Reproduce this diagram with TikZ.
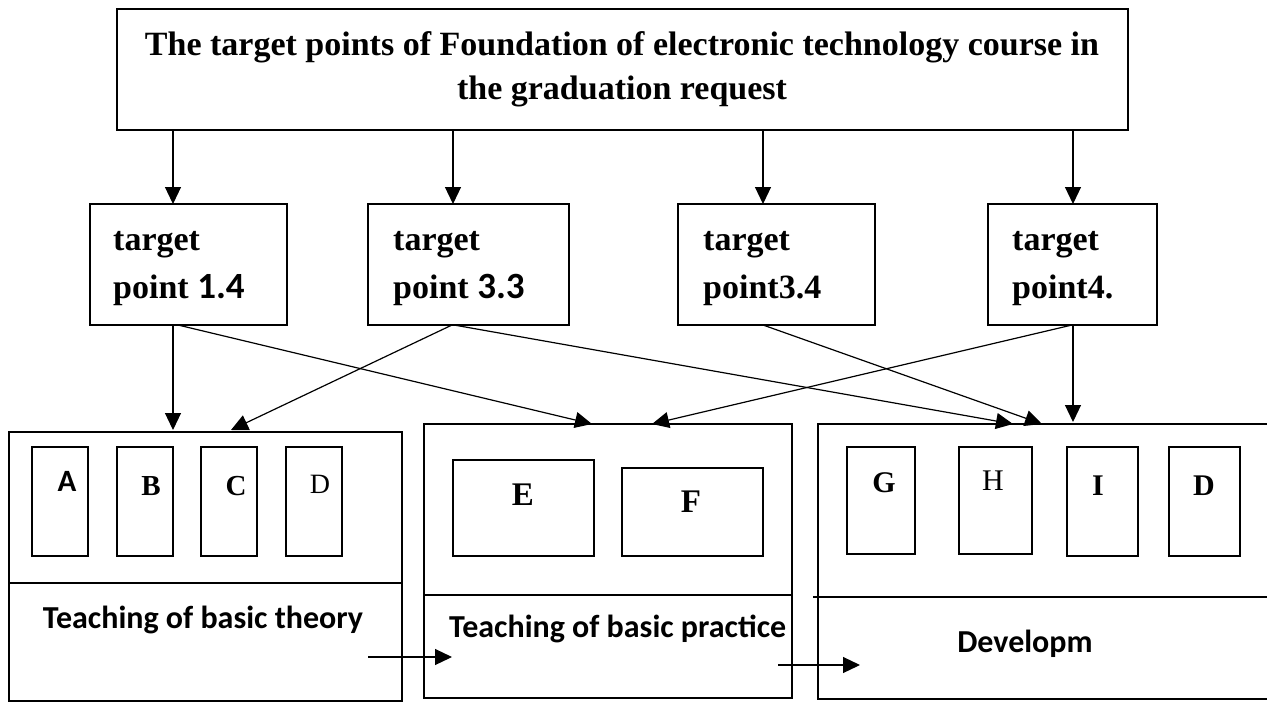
\documentclass[tikz,border=0pt]{standalone}
\usepackage{fontspec}
\setmainfont{Liberation Serif}
\newfontfamily\calfont{Carlito}
\usetikzlibrary{arrows.meta}
\begin{document}
\begin{tikzpicture}[x=1pt,y=-1pt,
  box/.style={draw, line width=1.2pt, rectangle, inner sep=0pt, outer sep=0pt},
  arr/.style={line width=1.2pt, -{Triangle[length=17pt,width=16pt]}},
  ln/.style={line width=1.2pt},
  ttl/.style={font=\fontsize{34}{44}\selectfont\bfseries, anchor=base, inner sep=0pt},
  tgt/.style={font=\fontsize{34}{40}\selectfont\bfseries, anchor=base west, inner sep=0pt},
  lab/.style={font=\fontsize{32}{40}\selectfont\calfont\bfseries, inner sep=0pt},
  let/.style={anchor=base, inner sep=0pt}]
\useasboundingbox (0,0) rectangle (1267,702);
\fill[white] (0,0) rectangle (1267,702);

% top box
\node[box, minimum width=1011pt, minimum height=121pt] (top) at (622.5,69.5) {};
\node[ttl] (ttl1) at (622,55) {The target points of Foundation of electronic technology course in};
\node[ttl] (ttl2) at (622,99) {the graduation request};

% target boxes
\node[box, minimum width=197pt, minimum height=121pt] (t1) at (188.5,264.5) {};
\node[box, minimum width=201pt, minimum height=121pt] (t2) at (468.5,264.5) {};
\node[box, minimum width=197pt, minimum height=121pt] (t3) at (776.5,264.5) {};
\node[box, minimum width=169pt, minimum height=121pt] (t4) at (1072.5,264.5) {};
\node[tgt] (t1a) at (113,250) {target};
\node[tgt] (t1b) at (113,298) {point {\calfont\fontsize{37}{40}\selectfont 1.4}};
\node[tgt] (t2a) at (393,250) {target};
\node[tgt] (t2b) at (393,298) {point {\calfont\fontsize{37}{40}\selectfont 3.3}};
\node[tgt] (t3a) at (703,250) {target};
\node[tgt] (t3b) at (703,298) {point3.4};
\node[tgt] (t4a) at (1012,250) {target};
\node[tgt] (t4b) at (1012,298) {point4.};

% bottom boxes
\node[box, minimum width=393pt, minimum height=269pt] (b1) at (205.5,566.5) {};
\node[box, minimum width=368pt, minimum height=274pt] (b2) at (608,561) {};
\node[box, minimum width=462pt, minimum height=275pt] (b3) at (1049,561.5) {};
\coordinate (d1) at (0,583);
\coordinate (d2) at (0,595);
\coordinate (d3) at (813,597);
\draw[ln] (b1.west |- d1) -- (b1.east |- d1);
\draw[ln] (b2.west |- d2) -- (b2.east |- d2);
\draw[ln] (d3) -- (b3.east |- d3);

% small boxes
\node[box, minimum width=56pt, minimum height=109pt] (sA) at (60,501.5) {};
\node[box, minimum width=56pt, minimum height=109pt] (sB) at (145,501.5) {};
\node[box, minimum width=56pt, minimum height=109pt] (sC) at (229,501.5) {};
\node[box, minimum width=56pt, minimum height=109pt] (sD) at (314,501.5) {};
\node[box, minimum width=141pt, minimum height=96pt] (sE) at (523.5,508) {};
\node[box, minimum width=141pt, minimum height=88pt] (sF) at (692.5,512) {};
\node[box, minimum width=68pt, minimum height=107pt] (sG) at (881,500.5) {};
\node[box, minimum width=73pt, minimum height=107pt] (sH) at (995.5,500.5) {};
\node[box, minimum width=71pt, minimum height=109pt] (sI) at (1102.5,501.5) {};
\node[box, minimum width=71pt, minimum height=109pt] (sD2) at (1204.5,501.5) {};

\node[let, font=\fontsize{31}{36}\selectfont\calfont\bfseries] (lA) at (67,491) {A};
\node[let, font=\fontsize{29}{32}\selectfont\bfseries] (lB) at (151,495) {B};
\node[let, font=\fontsize{29}{32}\selectfont\bfseries] (lC) at (236,495) {C};
\node[let, font=\fontsize{28}{32}\selectfont] (lD) at (320,493) {D};
\node[let, font=\fontsize{33}{38}\selectfont\bfseries] (lE) at (523,505) {E};
\node[let, font=\fontsize{33}{38}\selectfont\bfseries] (lF) at (691,512) {F};
\node[let, font=\fontsize{30}{36}\selectfont\bfseries] (lG) at (884,492) {G};
\node[let, font=\fontsize{30}{36}\selectfont] (lH) at (993,490) {H};
\node[let, font=\fontsize{30}{34}\selectfont\bfseries] (lI) at (1098,495) {I};
\node[let, font=\fontsize{30}{36}\selectfont\bfseries] (lD2) at (1204,495) {D};

% bottom labels
\node[lab, anchor=base] (L1) at (203,628) {Teaching of basic theory};
\node[lab, anchor=base west] (L2) at (449,637) {Teaching of basic practice};
\node[lab, anchor=base] (L3) at (1025,652) {Developm};

% arrows top -> targets
\draw[arr] ([xshift=-449.5pt]top.south) -- ([xshift=-15.5pt]t1.north);
\draw[arr] ([xshift=-169.5pt]top.south) -- ([xshift=-15.5pt]t2.north);
\draw[arr] ([xshift=140.5pt]top.south) -- ([xshift=-13.5pt]t3.north);
\draw[arr] ([xshift=450.5pt]top.south) -- ([xshift=0.5pt]t4.north);

% arrows targets -> bottom boxes
\draw[arr] ([xshift=-15.5pt]t1.south) -- ([xshift=-32.5pt,yshift=2pt]b1.north);
\draw[arr] ([xshift=-10.5pt]t1.south) -- ([xshift=-16pt]b2.north);
\draw[arr] ([xshift=-16.5pt]t2.south) -- ([xshift=25.5pt,yshift=2pt]b1.north);
\draw[arr] ([xshift=-14.5pt]t2.south) -- ([xshift=-36pt]b3.north);
\draw[arr] ([xshift=-13.5pt]t3.south) -- ([xshift=-7pt]b3.north);
\draw[arr] ([xshift=-0.5pt]t4.south) -- ([xshift=44pt]b2.north);
\draw[arr] ([xshift=0.5pt]t4.south) -- ([xshift=24pt,yshift=2pt]b3.north);

% arrows between bottom boxes
\coordinate (p1s) at (368,657);
\coordinate (p1e) at (452,657);
\coordinate (p2s) at (778,665);
\coordinate (p2e) at (860,665);
\draw[arr] (p1s) -- (p1e);
\draw[arr] (p2s) -- (p2e);
\end{tikzpicture}
\end{document}
